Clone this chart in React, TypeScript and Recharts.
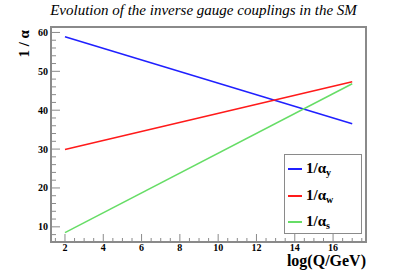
import { LineChart, Line, XAxis, YAxis, ReferenceArea } from "recharts";

// log10(Q/GeV) at the two ends of the running
const scales = [2, 17];
const invAlphaY = [58.9, 36.5];
const invAlphaW = [29.9, 47.3];
const invAlphaS = [8.5, 46.8];

const xMajor = [2, 4, 6, 8, 10, 12, 14, 16];
const yMajor = [10, 20, 30, 40, 50, 60];

const xTicks: number[] = [];
for (let v = 1.5; v <= 17.5; v += 0.5) xTicks.push(v);
const yTicks: number[] = [];
for (let v = 8; v <= 60; v += 2) yTicks.push(v);

const data = scales.map((q, i) => ({
  q,
  y: invAlphaY[i],
  w: invAlphaW[i],
  s: invAlphaS[i],
}));

const X_DOMAIN = [1.27, 17.72];
const Y_DOMAIN = [6.1, 61.4];
const FRAME = "#8a8a8a";
const SERIF = "'Liberation Serif', 'Times New Roman', serif";

const series = [
  { key: "y", sub: "y", color: "#2020ff" },
  { key: "w", sub: "w", color: "#ff1a1a" },
  { key: "s", sub: "s", color: "#66dd66" },
];

function XTick({ x, y, payload }: any) {
  const major = xMajor.includes(payload.value);
  return (
    <g>
      <line x1={x} x2={x} y1={y} y2={y - (major ? 8 : 4)} stroke={FRAME} strokeWidth={1} />
      {major && (
        <text x={x} y={y + 9} textAnchor="middle" fontFamily={SERIF} fontWeight="bold" fontSize={10} fill="#000">
          {payload.value}
        </text>
      )}
    </g>
  );
}

function YTick({ x, y, payload }: any) {
  const major = yMajor.includes(payload.value);
  return (
    <g>
      <line x1={x} x2={x + (major ? 9 : 5)} y1={y} y2={y} stroke={FRAME} strokeWidth={1} />
      {major && (
        <text x={x - 3} y={y + 3.5} textAnchor="end" fontFamily={SERIF} fontWeight="bold" fontSize={10} fill="#000">
          {payload.value}
        </text>
      )}
    </g>
  );
}

export default function App() {
  return (
    <div style={{ position: "absolute", left: 0, top: 0, width: 407, height: 276, background: "#fff", fontFamily: SERIF }}>
      <LineChart width={407} height={276} data={data} margin={{ top: 27, right: 41, bottom: 4, left: 11 }}>
        <XAxis
          dataKey="q"
          type="number"
          domain={X_DOMAIN}
          allowDataOverflow
          ticks={xTicks}
          interval={0}
          height={30}
          tickSize={0}
          tickMargin={0}
          tick={<XTick />}
          axisLine={false}
          tickLine={false}
        />
        <YAxis
          type="number"
          domain={Y_DOMAIN}
          allowDataOverflow
          ticks={yTicks}
          interval={0}
          width={40}
          tickSize={0}
          tickMargin={0}
          tick={<YTick />}
          axisLine={false}
          tickLine={false}
        />
        <ReferenceArea
          x1={X_DOMAIN[0]}
          x2={X_DOMAIN[1]}
          y1={Y_DOMAIN[0]}
          y2={Y_DOMAIN[1]}
          fill="none"
          fillOpacity={0}
          stroke={FRAME}
          strokeWidth={2}
        />
        {series.map((s) => (
          <Line key={s.key} dataKey={s.key} stroke={s.color} strokeWidth={1.5} dot={false} isAnimationActive={false} />
        ))}
      </LineChart>

      <div style={{ position: "absolute", left: 0, width: 407, top: 2, textAlign: "center", fontStyle: "italic", fontSize: 15, whiteSpace: "nowrap" }}>
        Evolution of the inverse gauge couplings in the SM
      </div>

      <div style={{ position: "absolute", left: 24, top: 30, fontWeight: "bold", fontSize: 15, whiteSpace: "nowrap", transform: "translate(-100%, -50%) rotate(-90deg)", transformOrigin: "100% 50%" }}>
        1 / α
      </div>

      <div style={{ position: "absolute", right: 407 - 366, top: 256, fontWeight: "bold", fontSize: 16, lineHeight: "10px", whiteSpace: "nowrap" }}>
        log(Q/GeV)
      </div>

      <div style={{ position: "absolute", left: 284, top: 154, width: 78, height: 80, border: `1px solid ${FRAME}`, boxSizing: "border-box", background: "#fff" }}>
        {series.map((s, i) => (
          <div key={s.key} style={{ position: "absolute", left: 3, top: 4 + i * 26.5, height: 20, display: "flex", alignItems: "center", whiteSpace: "nowrap" }}>
            <div style={{ width: 14, height: 2, background: s.color, marginRight: 4 }} />
            <span style={{ fontWeight: "bold", fontSize: 15 }}>
              1/α<sub style={{ fontSize: 10, verticalAlign: "-3px" }}>{s.sub}</sub>
            </span>
          </div>
        ))}
      </div>
    </div>
  );
}
